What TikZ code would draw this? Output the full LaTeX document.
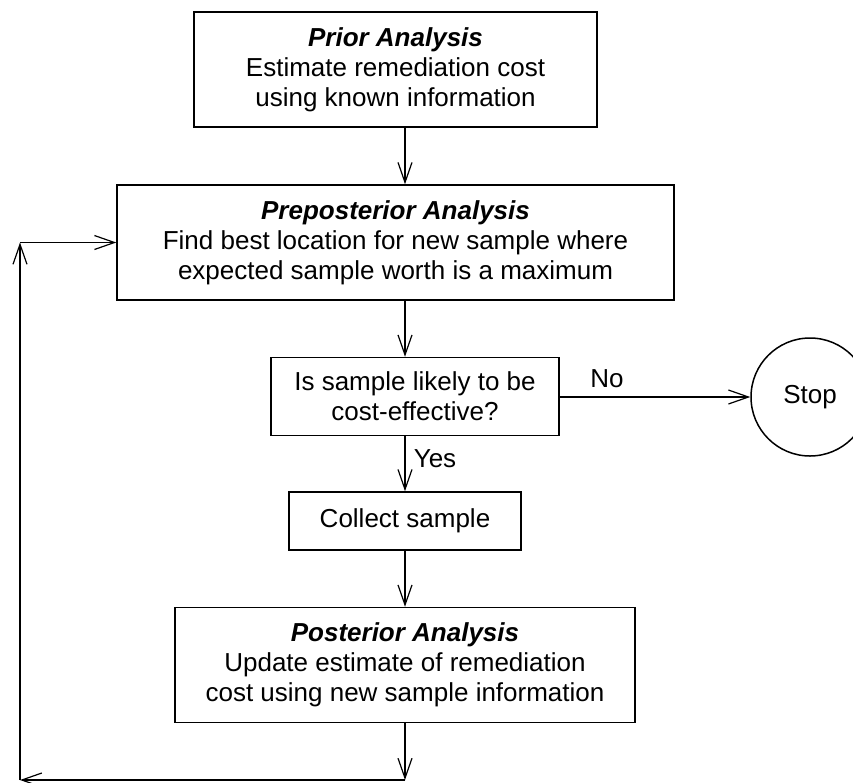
\documentclass[tikz,border=0pt]{standalone}
\usepackage{fontspec}
\setmainfont{Liberation Sans}
\usetikzlibrary{arrows.meta}

\begin{document}
\begin{tikzpicture}[x=1pt, y=-1pt,
  every node/.style={font=\fontsize{26}{30}\selectfont},
  stepbox/.style={draw, line width=1.5pt, align=center, inner sep=0pt},
  flow/.style={line width=1.2pt, -{Straight Barb[length=20pt, width=14pt, line width=1.2pt]}},
  lbl/.style={inner sep=0pt}
]
\useasboundingbox (0,0) rectangle (853,782);

% process boxes
\node[stepbox, minimum width=403pt, minimum height=115pt] (prior) at (395.5,69.5)
  {\textbf{\textit{Prior Analysis}}\\Estimate remediation cost\\using known information};
\node[stepbox, minimum width=557pt, minimum height=115pt] (prepost) at (395.5,242.5)
  {\textbf{\textit{Preposterior Analysis}}\\Find best location for new sample where\\expected sample worth is a maximum};
\node[stepbox, minimum width=288pt, minimum height=78pt] (decide) at (415,396.5)
  {Is sample likely to be\\cost-effective?};
\node[stepbox, minimum width=232pt, minimum height=58pt] (collect) at (405,521)
  {Collect sample};
\node[stepbox, minimum width=460pt, minimum height=115pt] (post) at (405,665)
  {\textbf{\textit{Posterior Analysis}}\\Update estimate of remediation\\cost using new sample information};
\node[draw, circle, line width=1.5pt, minimum size=118pt, inner sep=0pt] (stop) at (810,397) {Stop};

% main vertical flow line
\coordinate (fx) at (405,0);
\coordinate (bm) at (405,780);
\coordinate (bl) at (20,780);
\coordinate (tl) at (20,242.5);

\draw[flow] (prior.south -| fx) -- (prepost.north -| fx);
\draw[flow] (prepost.south -| fx) -- (decide.north -| fx);
\draw[flow] (decide.south -| fx) -- (collect.north);
\draw[flow] (collect.south) -- (post.north);
\draw[flow] (decide.east |- stop.west) -- (stop.west);

% feedback loop back to the preposterior step
\draw[flow] (post.south) -- (bm);
\draw[flow] (bm) -- (bl);
\draw[flow] (bl) -- (tl);
\draw[flow] (tl) -- (prepost.west);

% branch labels
\node[lbl] (no) at (607,379) {No};
\node[lbl] (yes) at (435,459) {Yes};
\end{tikzpicture}
\end{document}
